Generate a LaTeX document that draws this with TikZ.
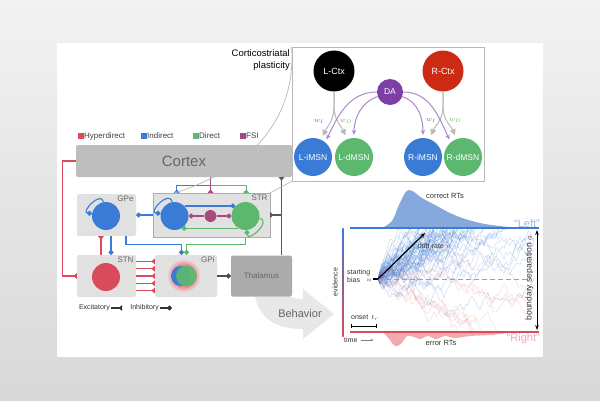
\documentclass[tikz,border=0pt]{standalone}
\usepackage{fontspec}
\setmainfont{Liberation Sans}
\usetikzlibrary{arrows.meta,calc,positioning}

\definecolor{bgtop}{HTML}{F2F2F2}
\definecolor{bgbot}{HTML}{D8D8D8}
\definecolor{hypred}{HTML}{D94A5A}
\definecolor{indblue}{HTML}{3A7BD5}
\definecolor{dirgreen}{HTML}{5CB86F}
\definecolor{fsimag}{HTML}{A84A7E}
\definecolor{dapurple}{HTML}{7B3FA6}
\definecolor{dalight}{HTML}{A98BCB}
\definecolor{rctxred}{HTML}{CC2A12}
\definecolor{boxg}{HTML}{E1E1E1}
\definecolor{ctxg}{HTML}{BEBEBE}
\definecolor{thalg}{HTML}{ABABAB}
\definecolor{txtg}{HTML}{666666}
\definecolor{errpink}{HTML}{F4A8B0}
\definecolor{corrblue}{HTML}{85A8DD}
\definecolor{leftblue}{HTML}{9BB6E2}

\begin{document}
\begin{tikzpicture}[x=1pt,y=1pt,>=Stealth,
  region/.style={fill=boxg,rounded corners=2pt,inner sep=0pt},
  tag/.style={font=\fontsize{8}{9}\selectfont,text=txtg,anchor=north east,inner sep=1pt},
  cell/.style={circle,inner sep=0pt,minimum size=#1},
  namedcell/.style={circle,inner sep=0pt,minimum size=#1,text=white,font=\fontsize{8.5}{9}\selectfont},
  wire/.style={line width=1.1pt},
  exc/.style={-{Triangle[reversed,length=3.5pt,width=5.5pt]}},
  inh/.style={-{Circle[length=5pt]}},
  plast/.style={draw=gray!55,line width=1pt,-{Triangle[length=6pt,width=6pt]}},
  dopa/.style={draw=dalight,line width=1pt,-{Stealth[length=5pt,width=4.5pt]}},
  wlab/.style={font=\fontsize{7}{8}\selectfont,inner sep=0pt},
  walk/.style={line width=0.4pt,opacity=0.3},
  small/.style={font=\fontsize{7}{8}\selectfont,text=black!80,inner sep=1pt}]

  \shade[top color=bgtop,bottom color=bgbot] (0,0) rectangle (600,-400);
  \useasboundingbox (0,0) rectangle (600,-400);
  \fill[white] (57,-43) rectangle (543,-357);

  \foreach \col/\txt/\xx in {hypred/Hyperdirect/78,indblue/Indirect/141,dirgreen/Direct/193,fsimag/FSI/240}{
    \fill[\col] (\xx,-133) rectangle ++(5.5,-6);
    \node[anchor=west,font=\fontsize{8}{9}\selectfont,text=black!75,inner sep=0.5pt] (key\txt) at (\xx+5.5,-136) {\txt};
  }

  \node[region,fill=ctxg,minimum width=216,minimum height=32,text=txtg,font=\fontsize{15}{16}\selectfont] (cortex) at (184,-161) {Cortex};
  \node[region,minimum width=59,minimum height=42] (gpe) at (106.5,-215) {};
  \node[region,draw=gray!65,rounded corners=0pt,minimum width=117,minimum height=44] (str) at (211.5,-215) {};
  \node[region,minimum width=59,minimum height=42] (stn) at (106.5,-276) {};
  \node[region,minimum width=62,minimum height=42] (gpi) at (186,-276) {};
  \node[region,fill=thalg,minimum width=61,minimum height=41,text=txtg,font=\fontsize{8}{9}\selectfont] (thal) at (261.5,-276) {Thalamus};

  \node[tag] (gpetag) at ($(gpe.north east)+(-1.5,-1)$) {GPe};
  \node[tag] (strtag) at ($(str.north east)+(-1.5,-1)$) {STR};
  \node[tag] (stntag) at ($(stn.north east)+(-1.5,-1)$) {STN};
  \node[tag] (gpitag) at ($(gpi.north east)+(-1.5,-1)$) {GPi};

  \node[cell=28,fill=indblue] (gpec) at (106,-216) {};
  \node[cell=28,fill=hypred] (stnc) at (106,-277) {};
  \node[cell=28,fill=indblue] (imsn) at (174.5,-216) {};
  \node[cell=12,fill=fsimag] (fsic) at (210.5,-216) {};
  \node[cell=28,fill=dirgreen] (dmsn) at (245.5,-216) {};
  \node[cell=31,fill=hypred!40] (gpic) at (184,-276) {};
  \node[cell=26,fill=hypred!60] (gpir) at (184,-276) {};
  \node[cell=20,fill=indblue] (gpib) at (181,-276) {};
  \node[cell=21,fill=dirgreen,opacity=0.92] (gpig) at (186.5,-276) {};

  \draw[wire,hypred,exc] (cortex.west) -- ++(-13,0) |- (stn.west);
  \foreach \dy in {-14.6,-7.3,0,7.3,14.6}
    \draw[wire,hypred,exc] ($(stn.east)+(0,\dy)$) -- ($(gpi.west)+(0,\dy)$);
  \draw[wire,hypred,exc] ($(stn.north)+(-5.5,0)$) -- ($(gpe.south)+(-5.5,0)$);
  \draw[wire,indblue,inh] ($(gpe.south)+(4.5,0)$) -- ($(stn.north)+(4.5,0)$);
  \draw[wire,indblue,inh] ($(gpe.south)+(19.5,0)$) -- ++(0,-8) -| ($(gpi.north)+(-4.5,0)$);
  \draw[wire,dirgreen,inh] (dmsn |- str.south) -- ++(0,-7) -| ($(gpi.north)+(0.5,0)$);
  \draw[wire,indblue,inh] (str.west) -- (gpe.east);

  \coordinate (cfork) at ($(cortex.south -| fsic)+(0,-8)$);
  \draw[wire,indblue,exc] (cortex.south -| fsic) -- (cfork) -| ($(str.north west)+(24,0)$);
  \draw[wire,dirgreen,exc] (cortex.south -| fsic) -- (cfork) -| ($(str.north east)+(-24,0)$);
  \draw[wire,fsimag,exc] (cortex.south -| fsic) -- (str.north -| fsic);

  \coordinate (thup) at ($(thal.north)+(20,0)$);
  \draw[wire,black!65,exc] (thup) -- (thup |- cortex.south);
  \draw[wire,black!65,exc] (thup |- str.east) -- (str.east);
  \draw[wire,black!70,inh] (gpi.east) -- (thal.west);

  \draw[wire,indblue,inh] (imsn.45) -- (dmsn.135);
  \draw[wire,fsimag,inh] (fsic.west) -- (imsn.east);
  \draw[wire,fsimag,inh] (fsic.east) -- (dmsn.west);
  \draw[wire,dirgreen,inh] (dmsn.-120) -- (imsn.-60);
  \draw[wire,indblue,inh] (imsn.100) .. controls +(100:13) and +(175:13) .. (imsn.170);
  \draw[wire,dirgreen,inh] (dmsn.-10) .. controls +(-10:13) and +(-85:13) .. (dmsn.-85);
  \draw[wire,indblue,inh] (gpec.100) .. controls +(100:12) and +(175:12) .. (gpec.170);

  \node[small,anchor=east] (exckey) at (111,-308) {Excitatory};
  \draw[wire,black!80,exc] (exckey.east) -- ++(11,0);
  \node[small,anchor=east] (inhkey) at (160,-308) {Inhibitory};
  \draw[wire,black!80,inh] (inhkey.east) -- ++(12,0);

  \node[align=right,anchor=north east,font=\fontsize{9.5}{12}\selectfont,inner sep=0pt] (plastlab) at (290,-49) {Corticostriatal\\plasticity};
  \node[draw=gray!55,line width=0.8pt,fill=white,minimum width=192,minimum height=134,inner sep=0pt] (inset) at (388,-114) {};
  \draw[gray!55,line width=0.7pt] (inset.north west) .. controls +(5,-73) and +(75,23) .. ($(str.north west)+(22,0)$);
  \draw[gray!55,line width=0.7pt] (inset.south west) -- (str.north east);

  \node[namedcell=41,fill=black,font=\fontsize{9}{10}\selectfont] (lctx) at (334,-71) {L-Ctx};
  \node[namedcell=41,fill=rctxred,font=\fontsize{9}{10}\selectfont] (rctx) at (443,-71) {R-Ctx};
  \node[namedcell=26,fill=dapurple] (da) at (390,-92) {DA};
  \node[namedcell=38,fill=indblue] (limsn) at (313,-157) {L-iMSN};
  \node[namedcell=38,fill=dirgreen] (ldmsn) at (354,-157) {L-dMSN};
  \node[namedcell=38,fill=indblue] (rimsn) at (423,-157) {R-iMSN};
  \node[namedcell=38,fill=dirgreen] (rdmsn) at (463,-157) {R-dMSN};

  \coordinate (lfork) at ($(lctx.south)+(0,-15)$);
  \coordinate (rfork) at ($(rctx.south)+(0,-15)$);
  \draw[plast,shorten >=4pt] (lctx.south) -- (lfork) to[out=-90,in=65] (limsn.65);
  \draw[plast,shorten >=4pt] (lctx.south) -- (lfork) to[out=-90,in=112] (ldmsn.112);
  \draw[plast,shorten >=4pt] (rctx.south) -- (rfork) to[out=-90,in=68] (rimsn.70);
  \draw[plast,shorten >=4pt] (rctx.south) -- (rfork) to[out=-90,in=112] (rdmsn.110);
  \draw[dopa,shorten >=3pt] (da.west) to[out=180,in=65] (limsn.50);
  \draw[dopa,shorten >=3pt] (da.200) to[out=200,in=90] (ldmsn.north);
  \draw[dopa,shorten >=3pt] (da.-20) to[out=-20,in=90] (rimsn.north);
  \draw[dopa,shorten >=3pt] (da.east) to[out=0,in=115] (rdmsn.130);
  \node[wlab,text=indblue] (wil) at (319,-121) {$w_I$};
  \node[wlab,text=dirgreen] (wdl) at (346,-121) {$w_D$};
  \node[wlab,text=indblue] (wir) at (431,-120) {$w_I$};
  \node[wlab,text=dirgreen] (wdr) at (455,-120) {$w_D$};

  \fill[gray!18] (255,-297) .. controls (261,-322) and (280,-329) .. (303,-329) -- (303,-339) -- (334,-314) -- (303,-289) -- (303,-299) .. controls (297,-299) and (294,-298) .. (291,-297) -- cycle;
  \node[text=txtg,font=\fontsize{11}{12}\selectfont] (behav) at (300,-314) {Behavior};

  \coordinate (z0) at (378,-279);
  \fill[corrblue] plot[smooth] coordinates {(382,-228) (392,-221) (399,-205) (405,-193) (409,-190) (414,-192) (422,-198) (435,-205) (450,-213) (465,-219) (485,-224) (510,-227) (539,-228)} -- cycle;
  \fill[errpink] plot[smooth] coordinates {(383,-332) (390,-340) (395,-346) (401,-344) (407,-336) (414,-337) (420,-339) (428,-336) (436,-339) (445,-336) (455,-338) (470,-336) (490,-335) (510,-333) (539,-332)} -- cycle;

  \begin{scope}
    \clip (378,-228.5) rectangle (540,-331.5);
    \pgfmathsetseed{11}
    \foreach \k in {1,...,60}{
      \pgfmathsetmacro\drift{0.5+1.6*rnd}
      \xdef\wy{0}\xdef\wpath{(z0)}\xdef\wdone{0}
      \foreach \s in {1,...,78}{
        \ifnum\wdone=0
          \pgfmathsetmacro\ny{\wy+\drift+7*rand}
          \pgfmathsetmacro\nx{378+2*\s}
          \pgfmathsetmacro\yy{-279+\ny}
          \xdef\wpath{\wpath -- (\nx,\yy)}
          \xdef\wy{\ny}
          \pgfmathtruncatemacro\wd{(\ny>51)||(\ny<-53)}
          \xdef\wdone{\wd}
        \fi
      }
      \edef\tmp{\noexpand\draw[walk,indblue] \wpath;}\tmp
    }
    \foreach \k in {1,...,10}{
      \xdef\wy{0}\xdef\wpath{(z0)}\xdef\wdone{0}
      \foreach \s in {1,...,78}{
        \ifnum\wdone=0
          \pgfmathsetmacro\ny{\wy-0.7+6*rand}
          \pgfmathsetmacro\nx{378+2*\s}
          \pgfmathsetmacro\yy{-279+\ny}
          \xdef\wpath{\wpath -- (\nx,\yy)}
          \xdef\wy{\ny}
          \pgfmathtruncatemacro\wd{(\ny>51)||(\ny<-53)}
          \xdef\wdone{\wd}
        \fi
      }
      \edef\tmp{\noexpand\draw[walk,hypred,opacity=0.22] \wpath;}\tmp
    }
  \end{scope}

  \coordinate (tl) at (350,-228);
  \coordinate (tr) at (539,-228);
  \coordinate (bl) at (350,-332);
  \coordinate (br) at (539,-332);
  \draw[indblue,line width=1.6pt] (tl) -- (tr);
  \draw[hypred,line width=1.6pt] (bl) -- (br);
  \shade[top color=indblue,bottom color=hypred] (342,-228) rectangle (343.6,-336);

  \coordinate (dend) at (530,-279);
  \coordinate (vend) at (425,-233);
  \draw[gray!75,dash pattern=on 5pt off 3pt,line width=0.8pt] (z0) -- (dend);
  \draw[line width=1.2pt,-{Stealth[length=5pt]}] (z0) -- (vend);
  \draw[line width=1.2pt] ($(z0)+(-5,0)$) -- (z0);
  \node[small] (vlab) at (434,-246) {drift-rate $v$};
  \node[small,align=left,anchor=west,font=\fontsize{7}{8}\selectfont] (zlab) at (346,-276) {starting\\bias};
  \node[wlab,rotate=90] (zsym) at (369,-280) {$z$};
  \node[small,anchor=west] (onlab) at (350,-318) {onset \,$t_r$};
  \coordinate (ons) at (351,-326);
  \coordinate (one) at (377,-326);
  \draw[line width=1pt,{Bar[width=4pt]}-{Bar[width=4pt]}] (ons) -- (one);
  \node[small,rotate=90] (evlab) at (335,-282) {evidence};
  \node[small,anchor=west] (tlab) at (343,-340) {time};
  \draw[gray,line width=0.5pt,-{Stealth[length=3pt]}] ($(tlab.east)+(2,0)$) -- ++(13,0);
  \coordinate (atop) at (537,-230);
  \coordinate (abot) at (537,-330);
  \draw[line width=1pt,{Stealth[length=5pt]}-{Stealth[length=5pt]}] (atop) -- (abot);
  \node[small,rotate=90,font=\fontsize{8.5}{9}\selectfont] (alab) at (529.5,-278) {boundary separation $a$};
  \node[small,font=\fontsize{7.5}{8}\selectfont] (corrlab) at (445,-196) {correct RTs};
  \node[small,font=\fontsize{7.5}{8}\selectfont] (errlab) at (441,-343) {error RTs};
  \node[text=leftblue,font=\fontsize{11}{12}\selectfont,anchor=south east,inner sep=1pt] (leftlab) at (541,-229) {“Left”};
  \node[text=errpink,font=\fontsize{11}{12}\selectfont,anchor=north east,inner sep=1pt] (rightlab) at (541,-332) {“Right”};
\end{tikzpicture}
\end{document}
